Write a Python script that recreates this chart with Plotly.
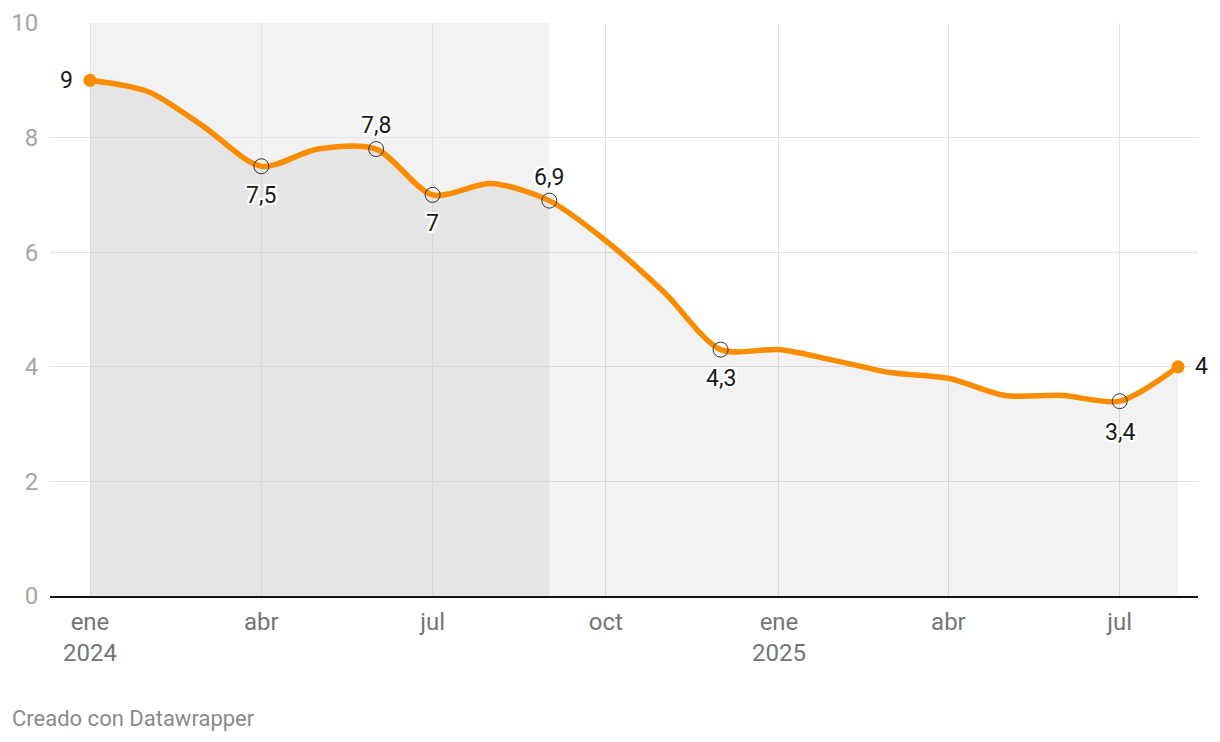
import plotly.graph_objects as go

months = ["2024-01-01", "2024-02-01", "2024-03-01", "2024-04-01", "2024-05-01", "2024-06-01",
          "2024-07-01", "2024-08-01", "2024-09-01", "2024-10-01", "2024-11-01", "2024-12-01",
          "2025-01-01", "2025-02-01", "2025-03-01", "2025-04-01", "2025-05-01", "2025-06-01",
          "2025-07-01", "2025-08-01"]
values = [9.0, 8.8, 8.2, 7.5, 7.8, 7.8, 7.0, 7.2, 6.9, 6.2, 5.3, 4.3,
          4.3, 4.1, 3.9, 3.8, 3.5, 3.5, 3.4, 4.0]

label_dates = ["2024-04-01", "2024-06-01", "2024-07-01", "2024-09-01", "2024-12-01", "2025-07-01"]
label_values = [7.5, 7.8, 7.0, 6.9, 4.3, 3.4]
label_texts = ["7,5", "7,8", "7", "6,9", "4,3", "3,4"]
label_shift_y = [-29, 24, -29, 23, -29, -31]

end_dates = ["2024-01-01", "2025-08-01"]
end_values = [9.0, 4.0]
end_texts = ["9", "4"]
end_shift_x = [-24, 23]

tick_vals = ["2024-01-01", "2024-04-01", "2024-07-01", "2024-10-01", "2025-01-01", "2025-04-01", "2025-07-01"]
tick_text = ["ene<br>2024", "abr", "jul", "oct", "ene<br>2025", "abr", "jul"]

highlight_start = "2024-01-01"
highlight_end = "2024-09-01"

ORANGE = "#fa8c00"
FONT = "Roboto"
HALO = ("-2px -2px 0 #fff, 2px -2px 0 #fff, -2px 2px 0 #fff, 2px 2px 0 #fff, "
        "0 2px 0 #fff, 0 -2px 0 #fff, 2px 0 0 #fff, -2px 0 0 #fff")
LABEL_FONT = dict(family=FONT, size=23, color="#1a1a1a", shadow=HALO)

fig = go.Figure()

# area under line
fig.add_trace(go.Scatter(
    x=months, y=values, mode="lines", fill="tozeroy",
    fillcolor="rgba(0,0,0,0.05)",
    line=dict(width=0, shape="spline", smoothing=0.8, color="rgba(0,0,0,0)"),
    hoverinfo="skip", showlegend=False,
))

# main line
fig.add_trace(go.Scatter(
    x=months, y=values, mode="lines",
    line=dict(width=5.5, shape="spline", smoothing=0.8, color=ORANGE),
    showlegend=False,
))

# labeled points (open circles)
fig.add_trace(go.Scatter(
    x=label_dates, y=label_values, mode="markers",
    marker=dict(symbol="circle-open", size=15, color="#333333", line=dict(width=1, color="#333333")),
    showlegend=False,
))

# end points
fig.add_trace(go.Scatter(
    x=end_dates, y=end_values, mode="markers",
    marker=dict(symbol="circle", size=13, color=ORANGE),
    showlegend=False,
))

for d, v, t, dy in zip(label_dates, label_values, label_texts, label_shift_y):
    fig.add_annotation(x=d, y=v, text=t, showarrow=False, yshift=dy,
                       xanchor="center", yanchor="middle", font=LABEL_FONT)

for d, v, t, dx in zip(end_dates, end_values, end_texts, end_shift_x):
    fig.add_annotation(x=d, y=v, text=t, showarrow=False, xshift=dx,
                       xanchor="center", yanchor="middle", font=LABEL_FONT)

fig.add_shape(type="rect", xref="x", yref="paper",
              x0=highlight_start, x1=highlight_end, y0=0, y1=1,
              fillcolor="rgba(0,0,0,0.05)", line=dict(width=0), layer="below")

fig.add_annotation(text="Creado con Datawrapper", xref="paper", yref="paper",
                   x=-0.0348, y=-0.213, xanchor="left", yanchor="middle",
                   showarrow=False, font=dict(family=FONT, size=22, color="#8a8a8a"))

# page body adds an 8px offset, so the figure is 8px smaller and margins compensate
fig.update_layout(
    width=1212, height=734,
    margin=dict(l=42, r=22, t=15, b=146, autoexpand=False),
    paper_bgcolor="white", plot_bgcolor="white",
    font=dict(family=FONT),
    showlegend=False,
    hovermode=False,
    xaxis=dict(
        type="date", automargin=False,
        range=["2023-12-10 18:00", "2025-08-11 14:00"],
        tickmode="array", tickvals=tick_vals, ticktext=tick_text,
        showgrid=True, gridcolor="#e3e3e3", gridwidth=1,
        showline=True, linecolor="#111111", linewidth=2,
        ticks="outside", ticklen=3, tickcolor="rgba(0,0,0,0)",
        tickfont=dict(family=FONT, size=24, color="#757575"),
        zeroline=False,
    ),
    yaxis=dict(
        automargin=False,
        range=[0, 10],
        tickvals=[0, 2, 4, 6, 8, 10],
        ticktext=["0", "2", "4", "6", "8", "10"],
        showgrid=True, gridcolor="#e3e3e3", gridwidth=1,
        zeroline=False, showline=False,
        ticks="outside", ticklen=6, tickcolor="rgba(0,0,0,0)",
        tickfont=dict(family=FONT, size=24, color="#a6a6a6"),
    ),
)

fig.write_html("out.html")
